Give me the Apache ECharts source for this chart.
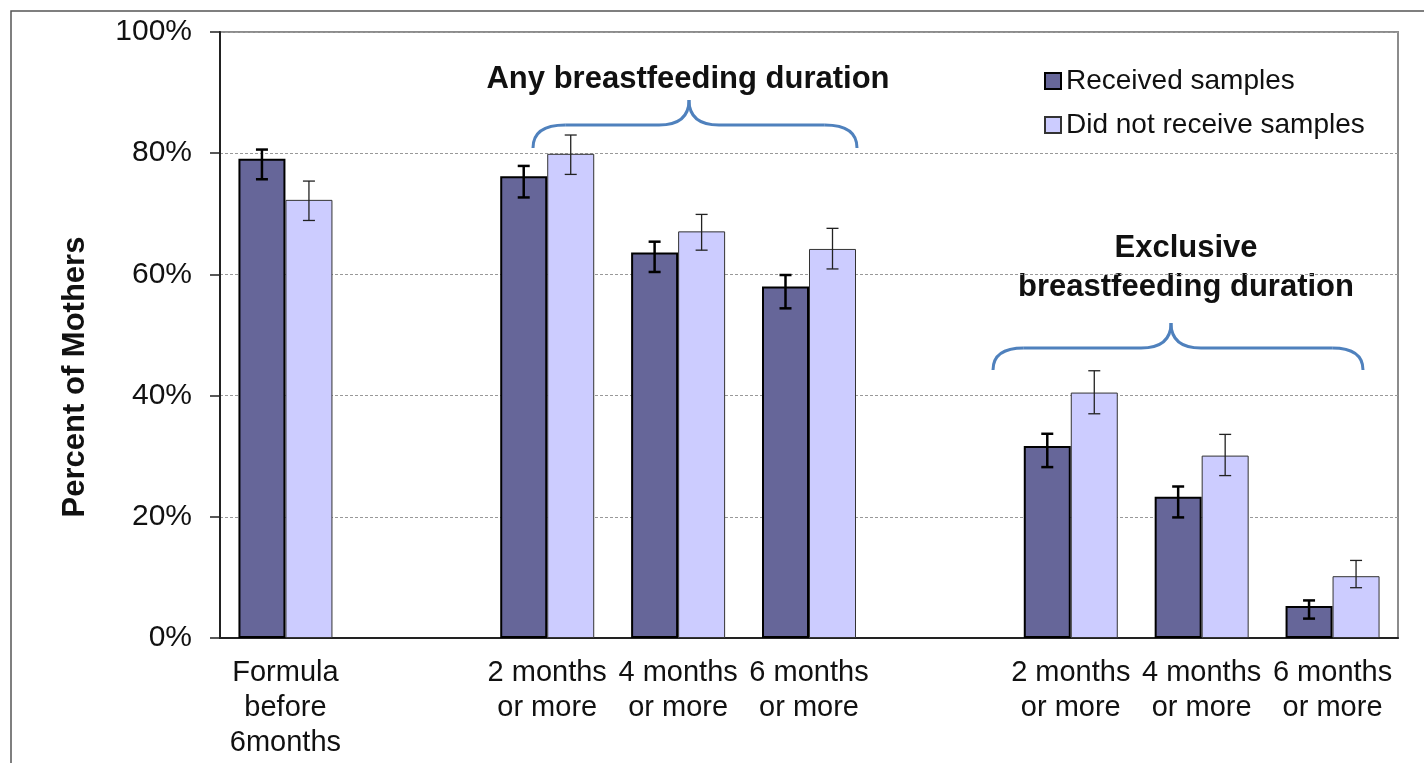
<!DOCTYPE html>
<html>
<head>
<meta charset="utf-8">
<script src="https://cdn.jsdelivr.net/npm/echarts@6/dist/echarts.min.js"></script>
<style>
  html, body { margin: 0; padding: 0; background: #fff; }
  #chart { width: 1424px; height: 763px; }
</style>
</head>
<body>
<div id="chart"></div>
<script>
// categories (blank slots are the gaps between groups)
const categories = [
  'Formula\nbefore\n6months', '',
  '2 months\nor more', '4 months\nor more', '6 months\nor more', '',
  '2 months\nor more', '4 months\nor more', '6 months\nor more'
]
const seriesNames = ['Received samples', 'Did not receive samples']

// percent of mothers
const received = [79.1, null, 76.2, 63.6, 58.0, null, 31.7, 23.3, 5.3]
const receivedLow = [75.7, null, 72.7, 60.4, 54.4, null, 28.2, 19.9, 3.2]
const receivedHigh = [80.6, null, 77.9, 65.4, 59.9, null, 33.7, 25.0, 6.2]
const notReceived = [72.3, null, 79.9, 67.1, 64.2, null, 40.5, 30.1, 10.2]
const notReceivedLow = [68.9, null, 76.5, 64.0, 60.9, null, 37.0, 26.8, 8.3]
const notReceivedHigh = [75.4, null, 83.0, 69.9, 67.6, null, 44.1, 33.6, 12.8]

const yTicks = { min: 0, max: 100, interval: 20 }

const FONT = '"Liberation Sans", Arial, sans-serif'
const BAR_W = 47
const BRACE = '#4f81bd'

function toBar(arr) {
  return arr.map(v => (v == null ? '-' : v))
}
function toErr(lo, hi) {
  const out = []
  lo.forEach((v, i) => {
    if (v != null) out.push([i, v, hi[i]])
  })
  return out
}

function errorRender(offset, lw, color) {
  return function (params, api) {
    const i = api.value(0)
    const lo = api.coord([i, api.value(1)])
    const hi = api.coord([i, api.value(2)])
    const cx = lo[0] + offset
    const hw = 6
    const style = { stroke: color, lineWidth: lw }
    return {
      type: 'group',
      children: [
        { type: 'line', shape: { x1: cx, y1: hi[1], x2: cx, y2: lo[1] }, style },
        { type: 'line', shape: { x1: cx - hw, y1: hi[1], x2: cx + hw, y2: hi[1] }, style },
        { type: 'line', shape: { x1: cx - hw, y1: lo[1], x2: cx + hw, y2: lo[1] }, style },
      ],
    }
  }
}

// curly brace: left end x0, right end x1, tip at xm, ends at yEnd, bar at yBar, tip at yTip
function brace(x0, x1, xm, yEnd, yBar, yTip) {
  const style = { fill: 'none', stroke: BRACE, lineWidth: 3 }
  const r = yEnd - yBar
  const t = yBar - yTip
  const curve = (ax, ay, cx, cy, bx, by) => ({
    type: 'bezierCurve',
    shape: { x1: ax, y1: ay, cpx1: cx, cpy1: cy, x2: bx, y2: by },
    style,
  })
  const line = (ax, bx) => ({
    type: 'line',
    shape: { x1: ax, y1: yBar, x2: bx, y2: yBar },
    style,
  })
  return {
    type: 'group',
    silent: true,
    children: [
      curve(x0, yEnd, x0, yBar, x0 + r * 1.4, yBar),
      line(x0 + r * 1.4, xm - t * 1.2),
      curve(xm - t * 1.2, yBar, xm, yBar, xm, yTip),
      curve(xm, yTip, xm, yBar, xm + t * 1.2, yBar),
      line(xm + t * 1.2, x1 - r * 1.4),
      curve(x1 - r * 1.4, yBar, x1, yBar, x1, yEnd),
    ],
  }
}

const chart = echarts.init(document.getElementById('chart'))

const option = {
  animation: false,
  backgroundColor: '#fff',
  textStyle: { fontFamily: FONT },
  grid: {
    left: 220,
    right: 26,
    top: 32,
    bottom: 125,
    show: true,
    borderColor: '#8c8c8c',
    borderWidth: 2,
  },
  legend: {
    orient: 'vertical',
    left: 1044,
    top: 66,
    padding: 0,
    icon: 'rect',
    itemWidth: 16,
    itemHeight: 16,
    itemGap: 14,
    data: seriesNames,
    textStyle: { fontFamily: FONT, fontSize: 28, color: '#111', lineHeight: 30 },
  },
  xAxis: {
    type: 'category',
    data: categories,
    axisLine: { lineStyle: { color: '#222', width: 2 } },
    axisTick: { show: false },
    axisLabel: {
      interval: 0,
      margin: 17,
      fontFamily: FONT,
      fontSize: 29,
      lineHeight: 35,
      color: '#111',
    },
  },
  yAxis: {
    type: 'value',
    min: yTicks.min,
    max: yTicks.max,
    interval: yTicks.interval,
    axisLine: { show: true, lineStyle: { color: '#222', width: 2 } },
    axisTick: { show: true, length: 10, lineStyle: { color: '#222', width: 1.5 } },
    axisLabel: {
      formatter: '{value}%',
      margin: 28,
      fontFamily: FONT,
      fontSize: 30,
      color: '#111',
    },
    splitLine: { lineStyle: { color: '#999', type: [3, 2], width: 1 } },
  },
  series: [
    {
      name: seriesNames[0],
      type: 'bar',
      data: toBar(received),
      barWidth: BAR_W,
      barGap: '0%',
      itemStyle: { color: '#666699', borderColor: '#000', borderWidth: 2 },
    },
    {
      name: seriesNames[1],
      type: 'bar',
      data: toBar(notReceived),
      barWidth: BAR_W,
      barGap: '0%',
      itemStyle: { color: '#ccccff', borderColor: '#333', borderWidth: 1 },
    },
    {
      type: 'custom',
      z: 5,
      data: toErr(receivedLow, receivedHigh),
      encode: { x: 0, y: [1, 2] },
      renderItem: errorRender(-BAR_W / 2, 2.5, '#000'),
    },
    {
      type: 'custom',
      z: 5,
      data: toErr(notReceivedLow, notReceivedHigh),
      encode: { x: 0, y: [1, 2] },
      renderItem: errorRender(BAR_W / 2, 1.3, '#222'),
    },
  ],
  graphic: [
    {
      type: 'rect',
      silent: true,
      shape: { x: 11, y: 11, width: 1440, height: 800 },
      style: { fill: 'none', stroke: '#555', lineWidth: 1.5 },
    },
    {
      type: 'text',
      x: 75,
      y: 377,
      rotation: Math.PI / 2,
      style: {
        text: 'Percent of Mothers',
        font: 'bold 31px ' + FONT,
        fill: '#111',
        align: 'center',
        verticalAlign: 'middle',
      },
    },
    {
      type: 'text',
      x: 688,
      y: 79,
      style: {
        text: 'Any breastfeeding duration',
        font: 'bold 31px ' + FONT,
        fill: '#111',
        align: 'center',
        verticalAlign: 'middle',
      },
    },
    {
      type: 'text',
      x: 1186,
      y: 268,
      style: {
        text: 'Exclusive\nbreastfeeding duration',
        font: 'bold 31px ' + FONT,
        lineHeight: 39,
        fill: '#111',
        align: 'center',
        verticalAlign: 'middle',
      },
    },
    brace(533, 857, 689, 148, 125, 100),
    brace(993, 1363, 1171, 370, 348, 323),
  ],
}

chart.setOption(option)
</script>
</body>
</html>
